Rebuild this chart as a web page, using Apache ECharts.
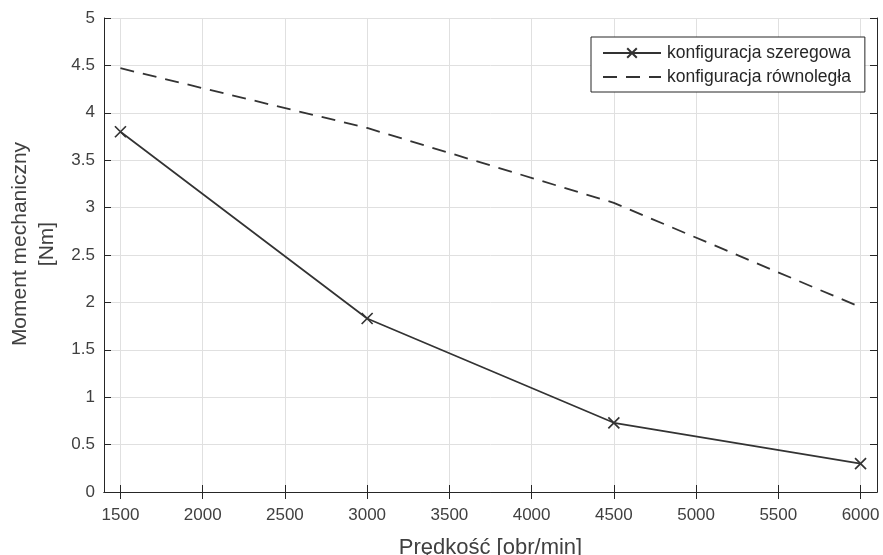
<!DOCTYPE html>
<html>
<head>
<meta charset="utf-8">
<script src="https://cdn.jsdelivr.net/npm/echarts@6/dist/echarts.min.js"></script>
<style>
html,body{margin:0;padding:0;background:#fff;}
#chart{width:883px;height:555px;}
</style>
</head>
<body>
<div id="chart"></div>
<script>
var speeds = [1500, 3000, 4500, 6000];
var seriesSzeregowa = [3.80, 1.83, 0.73, 0.30];
var seriesRownolegla = [4.47, 3.84, 3.05, 1.95];
var xTicks = [1500, 2000, 2500, 3000, 3500, 4000, 4500, 5000, 5500, 6000];
var nameSzeregowa = 'konfiguracja szeregowa';
var nameRownolegla = 'konfiguracja równoległa';
var xTitle = 'Prędkość [obr/min]';
var yTitle = 'Moment mechaniczny\n[Nm]';

var FONT = 'Liberation Sans, Arial, sans-serif';
var AX = '#262626';
var TXT = '#404040';
var chart = echarts.init(document.getElementById('chart'));

function pairs(xs, ys){ return xs.map(function(x,i){ return [x, ys[i]]; }); }

chart.setOption({
  animation: false,
  backgroundColor: '#fff',
  grid: { left: 104, right: 6, top: 18, bottom: 63, containLabel: false, outerBoundsMode: 'none' },
  legend: {
    orient: 'vertical',
    left: 591, top: 37,
    padding: [7, 14, 6, 11],
    itemGap: 6,
    itemWidth: 58, itemHeight: 12,
    backgroundColor: '#fff',
    borderColor: AX, borderWidth: 1,
    textStyle: { fontFamily: FONT, fontSize: 17.5, color: AX, padding: [0, 0, 0, 1] },
    data: [
      { name: nameSzeregowa },
      { name: nameRownolegla, itemStyle: { opacity: 0 } }
    ]
  },
  xAxis: [{
    type: 'value', min: 1400, max: 6100,
    name: xTitle, nameLocation: 'middle', nameGap: 45,
    nameTextStyle: { fontFamily: FONT, fontSize: 22, color: TXT },
    axisLine: { show: true, lineStyle: { color: AX, width: 1 } },
    axisTick: { show: true, inside: true, length: 7, customValues: xTicks, lineStyle: { color: AX } },
    axisLabel: { customValues: xTicks, formatter: function(v){ return String(v); }, fontFamily: FONT, fontSize: 17, color: TXT, margin: 15 },
    splitLine: { show: true, lineStyle: { color: '#e0e0e0', width: 1 } }
  }, {
    type: 'value', min: 1400, max: 6100, position: 'top',
    axisLine: { show: true, lineStyle: { color: AX, width: 1 } },
    axisTick: { show: true, inside: true, length: 7, customValues: xTicks, lineStyle: { color: AX } },
    axisLabel: { show: false, customValues: xTicks },
    splitLine: { show: false }
  }],
  yAxis: [{
    type: 'value', min: 0, max: 5, interval: 0.5,
    name: yTitle, nameLocation: 'middle', nameGap: 43, nameRotate: 90,
    nameTextStyle: { fontFamily: FONT, fontSize: 21, color: TXT, lineHeight: 27, padding: [0, 0, 0, 22] },
    axisLine: { show: true, lineStyle: { color: AX, width: 1 } },
    axisTick: { show: true, inside: true, length: 7, lineStyle: { color: AX } },
    axisLabel: { fontFamily: FONT, fontSize: 17, color: TXT, margin: 9 },
    splitLine: { show: true, lineStyle: { color: '#e0e0e0', width: 1 } }
  }, {
    type: 'value', min: 0, max: 5, interval: 0.5, position: 'right',
    axisLine: { show: true, lineStyle: { color: AX, width: 1 } },
    axisTick: { show: true, inside: true, length: 7, lineStyle: { color: AX } },
    axisLabel: { show: false },
    splitLine: { show: false }
  }],
  series: [{
    name: nameSzeregowa,
    type: 'line',
    data: pairs(speeds, seriesSzeregowa),
    symbol: 'path://M0,0L10,10M10,0L0,10',
    symbolSize: 11,
    showSymbol: true,
    lineStyle: { color: '#333333', width: 1.7 },
    itemStyle: { color: 'none', borderColor: '#333333', borderWidth: 1.7 },
    z: 3
  }, {
    name: nameRownolegla,
    type: 'line',
    data: pairs(speeds, seriesRownolegla),
    symbol: 'none',
    lineStyle: { color: '#333333', width: 1.8, type: [14, 9] },
    itemStyle: { color: '#333333' },
    z: 2
  }]
});
</script>
</body>
</html>
